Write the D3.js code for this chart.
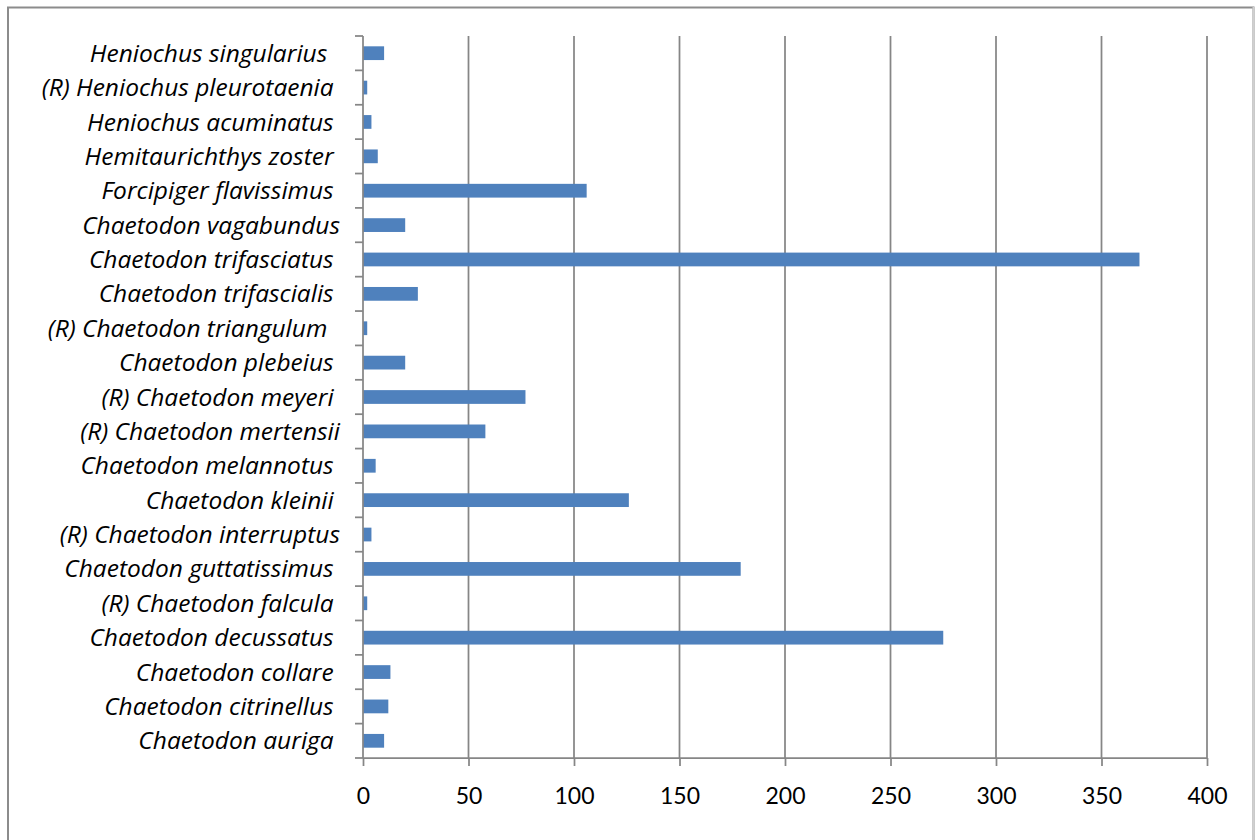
<!DOCTYPE html>
<html>
<head>
<meta charset="utf-8">
<script src="https://cdn.jsdelivr.net/npm/d3@7"></script>
<style>
  html, body { margin: 0; padding: 0; background: #fff; }
  svg { display: block; }
  text { white-space: pre; }
</style>
</head>
<body>
<svg id="chart" width="1255" height="840"></svg>
<script>
// Categories, top to bottom as drawn
const categories = [
  "Heniochus singularius  ",
  "(R) Heniochus pleurotaenia ",
  "Heniochus acuminatus ",
  "Hemitaurichthys zoster ",
  "Forcipiger flavissimus ",
  "Chaetodon vagabundus",
  "Chaetodon trifasciatus ",
  "Chaetodon trifascialis ",
  "(R) Chaetodon triangulum  ",
  "Chaetodon plebeius ",
  "(R) Chaetodon meyeri ",
  "(R) Chaetodon mertensii",
  "Chaetodon melannotus ",
  "Chaetodon kleinii ",
  "(R) Chaetodon interruptus",
  "Chaetodon guttatissimus ",
  "(R) Chaetodon falcula ",
  "Chaetodon decussatus ",
  "Chaetodon collare ",
  "Chaetodon citrinellus ",
  "Chaetodon auriga "
];
const values = [10, 2, 4, 7, 106, 20, 368, 26, 2, 20, 77, 58, 6, 126, 4, 179, 2, 275, 13, 12, 10];
const xTicks = [0, 50, 100, 150, 200, 250, 300, 350, 400];

(function () {
const svg = d3.select("#chart");
const pL = 363, pR = 1207, pT = 36, pB = 758;
const gridColor = "#868686";

// chart border
svg.append("rect").attr("x", 8).attr("y", 7.5).attr("width", 1245.5).attr("height", 850)
  .attr("fill", "none").attr("stroke", "#8c8c8c").attr("stroke-width", 2);
svg.append("line").attr("x1", 1253.5).attr("x2", 1253.5).attr("y1", 7).attr("y2", 840)
  .attr("stroke", "#d0d0d0").attr("stroke-width", 2);

const x = d3.scaleLinear().domain([0, 400]).range([pL, pR]);
const y = d3.scaleBand().domain(categories).range([pT, pB]).paddingInner(0.6).paddingOuter(0.3);

// gridlines
svg.append("g").selectAll("line").data(xTicks.slice(1)).join("line")
  .attr("x1", d => x(d)).attr("x2", d => x(d))
  .attr("y1", pT).attr("y2", pB)
  .attr("stroke", gridColor).attr("stroke-width", 1.75);

// bars
svg.append("g").selectAll("rect").data(values).join("rect")
  .attr("x", x(0))
  .attr("y", (d, i) => y(categories[i]))
  .attr("width", d => x(d) - x(0))
  .attr("height", y.bandwidth())
  .attr("fill", "#4F81BD");

// x axis
const xAxis = d3.axisBottom(x).tickValues(xTicks).tickSize(8).tickPadding(22).tickFormat(d3.format("d"));
const gx = svg.append("g").attr("transform", `translate(0,${pB})`).call(xAxis);
gx.select(".domain").attr("stroke", gridColor).attr("stroke-width", 1.75)
  .attr("d", `M${pL},0H${pR}`);
gx.selectAll(".tick line").attr("stroke", gridColor).attr("stroke-width", 1.75);
gx.selectAll(".tick text").attr("font-family", "Lato, sans-serif").attr("font-size", 23)
  .attr("fill", "#000");

// y axis: line and boundary ticks
const n = categories.length;
const boundaries = d3.range(n + 1).map(i => pT + i * (pB - pT) / n);
svg.append("line").attr("x1", pL).attr("x2", pL).attr("y1", pT).attr("y2", pB)
  .attr("stroke", gridColor).attr("stroke-width", 1.75);
svg.append("g").selectAll("line").data(boundaries).join("line")
  .attr("x1", pL - 8).attr("x2", pL).attr("y1", d => d).attr("y2", d => d)
  .attr("stroke", gridColor).attr("stroke-width", 1.75);

// category labels
svg.append("g").selectAll("text").data(categories).join("text")
  .attr("x", 340)
  .attr("y", d => y(d) + y.bandwidth() / 2)
  .attr("dy", "0.35em")
  .attr("text-anchor", "end")
  .attr("font-family", "'Open Sans', sans-serif")
  .attr("font-style", "italic")
  .attr("font-size", 24.5)
  .attr("fill", "#000")
  .text(d => d);
})();
</script>
</body>
</html>
